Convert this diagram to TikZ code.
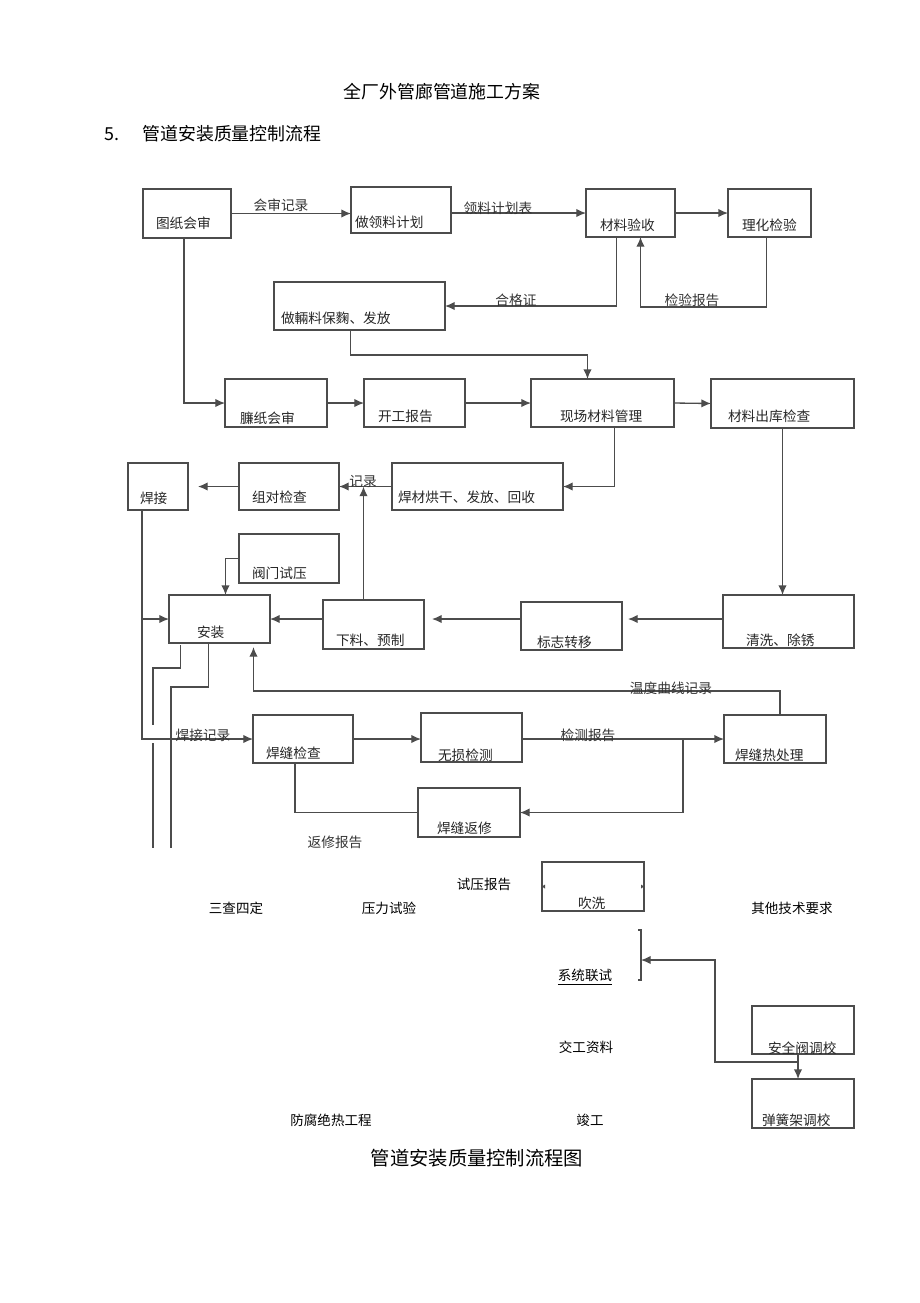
\documentclass[tikz,border=0pt]{standalone}
\usepackage{fontspec}
\setmainfont{Noto Sans CJK SC}
\usetikzlibrary{calc, arrows.meta}
\colorlet{lc}{black!70}
\tikzset{
 box/.style n args={4}{draw=lc, line width=0.7pt, anchor=north west, outer sep=0pt, inner sep=0pt,
  inner xsep={#3*0.02cm}, align=left, text width={(#1-2*#3)*0.02cm},
  text height={(#2-#4)*0.02cm}, text depth={#4*0.02cm},
  font=\fontsize{7.8pt}{9pt}\selectfont, text=black!85},
 arr/.style={draw=lc, line width=0.75pt, -{Latex[length=5.5pt,width=4.8pt]}},
 ln/.style={draw=lc, line width=0.75pt},
 lbl/.style={font=\fontsize{7.8pt}{9pt}\selectfont, text=black!80, inner sep=0pt},
 hei/.style={font=\fontsize{7.7pt}{9pt}\selectfont, inner sep=0pt}
}

\begin{document}
\begin{tikzpicture}[x=0.02cm, y=-0.02cm]
 \useasboundingbox (0,0) rectangle (920,1303);
 \node[font=\fontsize{10.2pt}{12pt}\selectfont, inner sep=0pt] (ttl) at (442,92) {全厂外管廊管道施工方案};
 \node[font=\fontsize{10.2pt}{12pt}\selectfont, inner sep=0pt] (num) at (112,134) {5.};
 \node[font=\fontsize{10.2pt}{12pt}\selectfont, inner sep=0pt] (sub) at (232,134) {管道安装质量控制流程};

 %框
 \node[box={88}{49}{13}{10}] (tzhs) at (143,189) {图纸会审};
 \node[box={100}{46}{4}{6}] (zllj) at (351,187) {做领料计划};
 \node[box={89}{48}{14}{7}] (ys) at (586,189) {材料验收};
 \node[box={83}{48}{14}{7}] (lh) at (728,189) {理化检验};
 \node[box={171}{48}{7}{7}] (zfl) at (274,282) {做輛料保麴、发放};
 \node[box={102}{48}{15}{4}] (lz) at (225,379) {臁纸会审};
 \node[box={101}{48}{14}{6}] (kg) at (364,379) {开工报告};
 \node[box={143}{48}{29}{6}] (xc) at (531,379) {现场材料管理};
 \node[box={143}{49}{17}{7}] (ck) at (711,379) {材料出库检查};
 \node[box={171}{47}{6}{8}] (hc) at (392,463) {焊材烘干、发放、回收};
 \node[box={100}{47}{13}{8}] (zd) at (239,463) {组对检查};
 \node[box={60}{47}{12}{7}] (hj) at (128,463) {焊接};
 \node[box={100}{49}{13}{5}] (fm) at (239,534) {阀门试压};
 \node[box={101}{48}{28}{6}] (az) at (169,595) {安装};
 \node[box={101}{49}{13}{4}] (xl) at (323,600) {下料、预制};
 \node[box={101}{48}{16}{3}] (bz) at (521,602) {标志转移};
 \node[box={131}{53}{23}{3}] (qx) at (723,595) {清洗、除锈};
 \node[box={100}{48}{13}{5}] (hfjc) at (253,715) {焊缝检查};
 \node[box={101}{49}{17}{2}] (wsjc) at (421,713) {无损检测};
 \node[box={102}{48}{11}{3}] (rcl) at (724,715) {焊缝热处理};
 \node[box={102}{49}{19}{4}] (fx) at (418,788) {焊缝返修};
 \node[box={102}{49}{36}{3}] (cx) at (542,862) {吹洗};
 \node[box={102}{48}{16}{1}] (aq) at (752,1006) {安全阀调校};
 \node[box={102}{49}{10}{3}] (th) at (752,1079) {弹簧架调校};

 \coordinate (g1) at (153,725);
 \coordinate (g2) at (153,743);
 \coordinate (e1) at (153,848);
 \coordinate (e2) at (171,848);
 \coordinate (kh) at (641,960);

 %连线
 \draw[arr] (tzhs.east) -- (zllj.west |- tzhs.east);
 \draw[arr] (zllj.east |- ys.west) -- (ys.west);
 \draw[arr] (ys.east) -- (lh.west);
 \draw[arr] ($(lh.south)+(-3,0)$) |- ($(ys.south)+(10,70)$) -- ($(ys.south)+(10,0)$);
 \draw[arr] ($(ys.south)+(-14,0)$) |- (zfl.east);
 \draw[arr] ($(zfl.south)+(-9,0)$) -- ++(0,25) -| ($(xc.north)+(-15,0)$);
 \draw[arr] ($(tzhs.south)+(-3,0)$) |- (lz.west);
 \draw[arr] (lz.east) -- (kg.west);
 \draw[arr] (kg.east) -- (xc.west);
 \draw[arr] (xc.east) -- (ck.west);
 \draw[arr] (ck.south) -- (ck.south |- qx.north);
 \draw[arr] ($(xc.south)+(12,0)$) |- (hc.east);
 \draw[arr] (hc.west) -- (zd.east);
 \draw[arr, shorten >=0.2cm] (zd.west) -- (hj.east);
 \draw[arr] ($(xl.north)+(-10,0)$) -- ($(xl.north |- hc.west)+(-10,0)$);
 \draw[arr] ($(hj.south)+(-16,0)$) |- (hfjc.west);
 \draw[arr] ($(hj.south)+(-16,0)$) |- (az.west);
 \draw[arr] (fm.west) -| ($(az.north)+(6,0)$);
 \draw[arr] (xl.west |- az.east) -- (az.east);
 \draw[arr, shorten >=0.16cm] (bz.west |- az.east) -- (xl.east |- az.east);
 \draw[arr, shorten >=0.12cm] (qx.west |- az.east) -- (bz.east |- az.east);
 \draw[arr, shorten >=0.08cm] ($(rcl.north)+(5,0)$) |- ($(az.south)+(34,48)$) -- ($(az.south)+(34,0)$);
 \draw[ln] ($(az.south)+(-39,2)$) -- ++(0,23) -| (g1);
 \draw[ln] (g2) -- (e1);
 \draw[ln] ($(az.south)+(-11,0)$) -- ++(0,44) -| (e2);
 \draw[arr] (hfjc.east) -- (wsjc.west |- hfjc.east);
 \draw[arr] (wsjc.east |- hfjc.east) -- (rcl.west);
 \draw[arr] ($(rcl.west)+(-41,0)$) |- (fx.east);
 \draw[ln] (fx.west) -| ($(hfjc.south)+(-8,0)$);
 \fill[lc] (cx.west) -- ++(3,-2) -- ++(0,4) -- cycle;
 \fill[lc] (cx.east) -- ++(-3,-2) -- ++(0,4) -- cycle;
 \draw[ln] ($(kh)+(-3,-30)$) -- ($(kh)+(0,-30)$) -- ($(kh)+(0,20)$) -- ($(kh)+(-3,20)$);
 \draw[arr] ($(aq.south)+(-5,8)$) -| ($(kh)+(74,0)$) -- (kh);
 \draw[arr] ($(aq.south)+(-5,0)$) -- ($(th.north)+(-5,0)$);

 %线上文字
 \node[lbl] (l1) at (281,205) {会审记录};
 \node[lbl] (l2) at (498,208) {领料计划表};
 \node[lbl] (l3) at (516,300) {合格证};
 \node[lbl] (l4) at (692,300) {检验报告};
 \node[lbl] (l5) at (363,481) {记录};
 \node[lbl] (l6) at (671,688) {温度曲线记录};
 \node[lbl] (l7) at (203,735) {焊接记录};
 \node[lbl] (l8) at (588,735) {检测报告};
 \node[lbl] (l9) at (335,842) {返修报告};

 %下段
 \node[hei] (syb) at (484,884) {试压报告};
 \node[hei] (scsd) at (236,908) {三查四定};
 \node[hei] (ylsy) at (389,908) {压力试验};
 \node[hei] (qtjs) at (792,908) {其他技术要求};
 \node[hei] (xtls) at (585,977) {\underline{系统联试}};
 \node[hei] (jgzl) at (586,1047) {交工资料};
 \node[hei] (jg) at (590,1120) {竣工};
 \node[hei] (ffjr) at (331,1120) {防腐绝热工程};
 \node[font=\fontsize{11pt}{13pt}\selectfont, inner sep=0pt] (cap) at (477,1158) {管道安装质量控制流程图};
\end{tikzpicture}
\end{document}
